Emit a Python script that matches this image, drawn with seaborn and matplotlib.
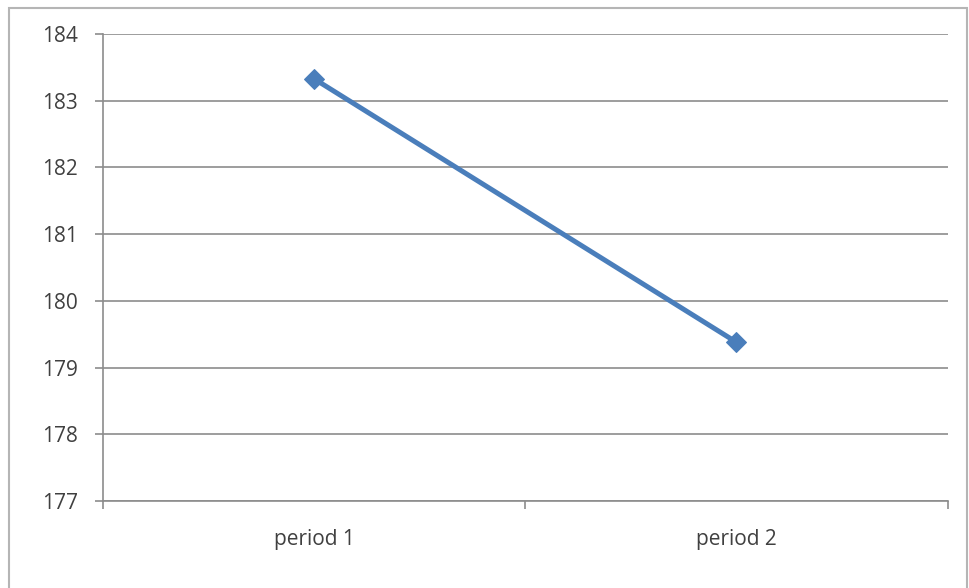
import matplotlib
matplotlib.use("Agg")
import matplotlib.pyplot as plt
import seaborn as sns
import pandas as pd
from matplotlib.patches import Rectangle

periods = ["period 1", "period 2"]
values = [183.33, 179.38]
y_ticks = [177, 178, 179, 180, 181, 182, 183, 184]

df = pd.DataFrame({"period": periods, "value": values})

sns.set_style("white")
plt.rcParams["font.family"] = ["Open Sans", "DejaVu Sans"]

fig = plt.figure(figsize=(9.7, 5.88), dpi=100)
ax = fig.add_axes([0.106, 0.148, 0.871, 0.794])

sns.lineplot(data=df, x="period", y="value", ax=ax, color="#4a7ebb",
             linewidth=3.6, marker="D", markersize=10, markeredgecolor="#4a7ebb",
             zorder=3)

ax.set_ylim(177, 184)
ax.set_yticks(y_ticks)
ax.set_xlim(-0.5, 1.5)
ax.set_xticks([0, 1])
ax.set_xticklabels(periods)
ax.set_xlabel("")
ax.set_ylabel("")
ax.yaxis.grid(True, color="#8c8c8c", linewidth=1.2)
ax.set_axisbelow(True)

for side in ["top", "right"]:
    ax.spines[side].set_visible(False)
ax.spines["left"].set_color("#8c8c8c")
ax.spines["bottom"].set_color("#8c8c8c")
ax.spines["left"].set_linewidth(1.2)
ax.spines["bottom"].set_linewidth(1.2)

ax.tick_params(axis="y", left=True, length=6, width=1.2, color="#8c8c8c",
               labelsize=15, labelcolor="#404040", pad=12)
ax.tick_params(axis="x", length=0, labelsize=15, labelcolor="#404040", pad=20)
# category boundary ticks
ax.set_xticks([-0.5, 0.5, 1.5], minor=True)
ax.tick_params(axis="x", which="minor", bottom=True, length=6, color="#8c8c8c", width=1.2)

fig.patches.append(Rectangle((0.009, -0.02), 0.988, 1.006, transform=fig.transFigure,
                             fill=False, edgecolor="#b5b5b5", linewidth=1.5))

fig.savefig("out.png", dpi=100)
